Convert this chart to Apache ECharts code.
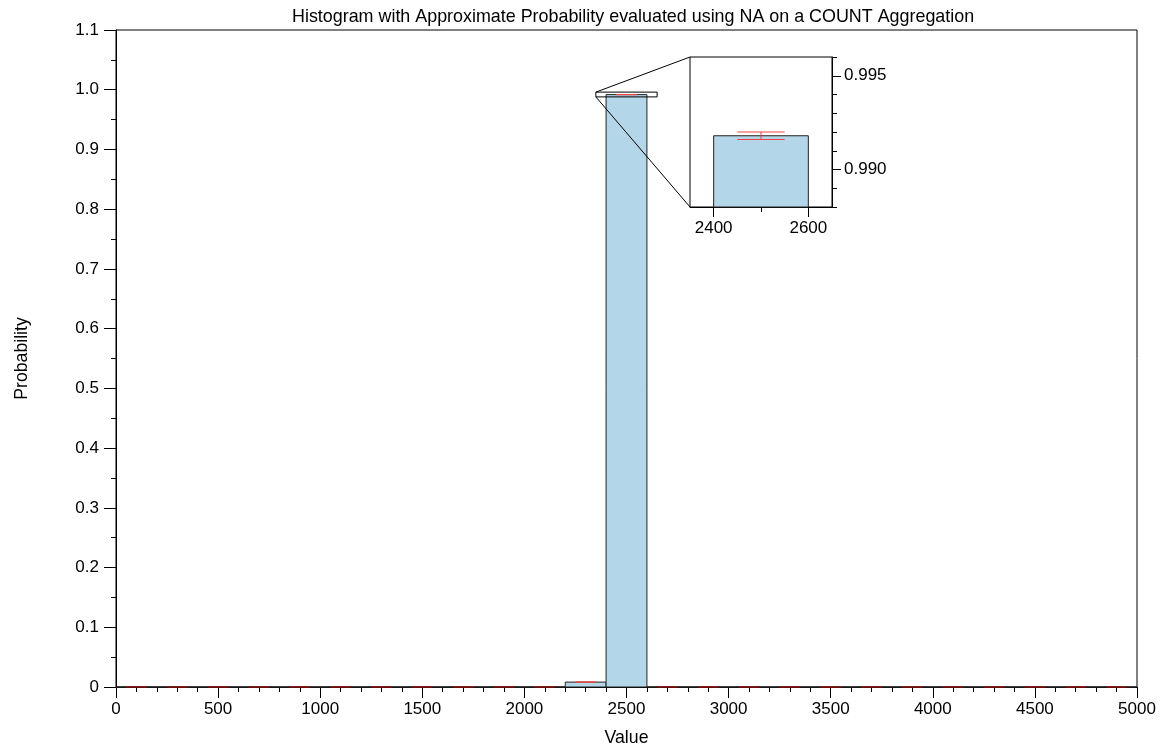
<!DOCTYPE html>
<html><head><meta charset="utf-8">
<script src="https://cdn.jsdelivr.net/npm/echarts@6/dist/echarts.min.js"></script>
<style>html,body{margin:0;padding:0;background:#fff}#c{width:1169px;height:749px}</style>
</head><body><div id="c"></div>
<script>
// ---- data ----
const binStarts = [0,200,400,600,800,1000,1200,1400,1600,1800,2000,2200,2400,2600,2800,3000,3200,3400,3600,3800,4000,4200,4400,4600,4800];
const binWidth = 200;
const probs =     [0,0,0,0,0,0,0,0,0,0,0,0.0082,0.9918,0,0,0,0,0,0,0,0,0,0,0,0];
const errors =    [0,0,0,0,0,0,0,0,0,0,0,0.0002,0.0002,0,0,0,0,0,0,0,0,0,0,0,0];
const zoomX = [2350, 2650];
const zoomY = [0.988, 0.996];
const insetXLabels = [2400, 2600];
const insetXMinor = [2500];
const insetYLabels = [0.990, 0.995];

const barData = binStarts.map((s,i)=>[s, s+binWidth, probs[i]]);
const errData = binStarts.map((s,i)=>[s+binWidth/2, probs[i], errors[i], binWidth/4]);

const FONT = '"Liberation Sans", Arial, Helvetica, sans-serif';
const chart = echarts.init(document.getElementById('c'), null, {renderer:'canvas'});

function renderBar(params, api){
  const x0 = api.value(0), x1 = api.value(1), y = api.value(2);
  const yb = params.seriesIndex === 0 ? 0 : zoomY[0] - 1;
  const p0 = api.coord([x0, y]);
  const p1 = api.coord([x1, yb]);
  const shape = echarts.graphic.clipRectByRect({
    x: p0[0], y: p0[1], width: p1[0]-p0[0], height: p1[1]-p0[1]
  }, {x: params.coordSys.x, y: params.coordSys.y, width: params.coordSys.width, height: params.coordSys.height});
  if (!shape) return null;
  return {type:'rect', shape: shape, style:{fill:'#b3d6e8', stroke:'#222', lineWidth:1}};
}
function renderErr(params, api){
  const cx = api.value(0), v = api.value(1), e = api.value(2), hw = api.value(3);
  const cs = params.coordSys;
  const top = api.coord([cx, v+e]), bot = api.coord([cx, v-e]);
  const l = api.coord([cx-hw, v]), r = api.coord([cx+hw, v]);
  if (l[0] > cs.x + cs.width || r[0] < cs.x) return null;
  if (top[1] > cs.y + cs.height + 1 || bot[1] < cs.y - 1) return null;
  const col = v === 0 ? 'rgba(200,0,0,0.55)' : '#ee4444';
  const st = {stroke: col, lineWidth: 1};
  return {type:'group', children:[
    {type:'line', shape:{x1:l[0], y1:top[1], x2:r[0], y2:top[1]}, style:st},
    {type:'line', shape:{x1:l[0], y1:bot[1], x2:r[0], y2:bot[1]}, style:st},
    {type:'line', shape:{x1:top[0], y1:top[1], x2:bot[0], y2:bot[1]}, style:st}
  ]};
}

const lbl = {color:'#000', fontSize:17, fontFamily: FONT};
const nm = {color:'#000', fontSize:17.7, fontFamily: FONT};
const option = {
  animation:false,
  backgroundColor:'#fff',
  title:{text:'Histogram with Approximate Probability evaluated using NA on a COUNT Aggregation',
    left:287, top:3, textStyle:{fontSize:17.9, fontWeight:'normal', color:'#000', fontFamily:FONT}},
  grid:[
    {left:116, right:32, top:30, bottom:62, show:true, borderColor:'#000', borderWidth:1, backgroundColor:'transparent', containLabel:false, outerBoundsMode:'none'},
    {left:690, right:337, top:57, bottom:542, show:true, borderColor:'#000', borderWidth:1, backgroundColor:'#fff', containLabel:false, outerBoundsMode:'none', z:5}
  ],
  xAxis:[
    {type:'value', gridIndex:0, min:0, max:5000, interval:500, position:'bottom',
     name:'Value', nameLocation:'middle', nameGap:42, nameTextStyle:nm,
     axisLine:{show:true, onZero:false, lineStyle:{color:'#000'}},
     axisTick:{show:true, length:11, lineStyle:{color:'#000'}},
     minorTick:{show:true, splitNumber:5, length:5, lineStyle:{color:'#000'}},
     splitLine:{show:false}, axisLabel:Object.assign({margin:14, formatter: v => String(v)}, lbl)},
    {type:'value', gridIndex:1, min:zoomX[0], max:zoomX[1], position:'bottom', z:6,
     axisLine:{show:true, onZero:false, lineStyle:{color:'#000'}},
     axisTick:{show:true, length:10, customValues:insetXLabels, lineStyle:{color:'#000'}},
     splitLine:{show:false}, axisLabel:Object.assign({margin:13, customValues:insetXLabels, formatter: v => String(v)}, lbl)},
    {type:'value', gridIndex:1, min:zoomX[0], max:zoomX[1], interval:50, position:'bottom', z:6,
     axisLine:{show:false, onZero:false},
     axisTick:{show:true, length:5, customValues:insetXMinor, lineStyle:{color:'#000'}},
     splitLine:{show:false}, axisLabel:{show:false}}
  ],
  yAxis:[
    {type:'value', gridIndex:0, min:0, max:1.1, interval:0.1,
     name:'Probability', nameLocation:'middle', nameGap:85, nameTextStyle:nm,
     axisLine:{show:true, onZero:false, lineStyle:{color:'#000'}},
     axisTick:{show:true, length:12, lineStyle:{color:'#000'}},
     minorTick:{show:true, splitNumber:2, length:5, lineStyle:{color:'#000'}},
     splitLine:{show:false},
     axisLabel:Object.assign({margin:17, formatter: v => v === 0 ? '0' : v.toFixed(1)}, lbl)},
    {type:'value', gridIndex:1, min:zoomY[0], max:zoomY[1], interval:0.001, position:'right', z:6,
     axisLine:{show:true, onZero:false, lineStyle:{color:'#000'}},
     axisTick:{show:true, length:5, lineStyle:{color:'#000'}},
     splitLine:{show:false},
     axisLabel:Object.assign({margin:12, customValues:insetYLabels, formatter: v => v.toFixed(3)}, lbl)},
    {type:'value', gridIndex:1, min:zoomY[0], max:zoomY[1], position:'right', z:6,
     axisLine:{show:false, onZero:false},
     axisTick:{show:true, length:9, customValues:insetYLabels, lineStyle:{color:'#000'}},
     splitLine:{show:false}, axisLabel:{show:false}}
  ],
  series:[
    {type:'custom', xAxisIndex:0, yAxisIndex:0, renderItem:renderBar, data:barData, z:2},
    {type:'custom', xAxisIndex:1, yAxisIndex:1, renderItem:renderBar, data:barData, z:7},
    {type:'custom', xAxisIndex:0, yAxisIndex:0, renderItem:renderErr, data:errData, z:3},
    {type:'custom', xAxisIndex:1, yAxisIndex:1, renderItem:renderErr, data:errData, z:8}
  ]
};
chart.setOption(option);

// zoom box and connector lines, positioned through the axes
const m = {xAxisIndex:0, yAxisIndex:0}, n = {xAxisIndex:1, yAxisIndex:1};
const bTL = chart.convertToPixel(m, [zoomX[0], zoomY[1]]);
const bBR = chart.convertToPixel(m, [zoomX[1], zoomY[0]]);
const iTL = chart.convertToPixel(n, [zoomX[0], zoomY[1]]);
const iBL = chart.convertToPixel(n, [zoomX[0], zoomY[0]]);
chart.setOption({graphic:[
  {type:'rect', shape:{x:bTL[0], y:bTL[1], width:bBR[0]-bTL[0], height:bBR[1]-bTL[1]}, style:{fill:'none', stroke:'#000', lineWidth:1}, z:10},
  {type:'line', shape:{x1:bTL[0], y1:bTL[1], x2:iTL[0], y2:iTL[1]}, style:{stroke:'#000', lineWidth:1}, z:10},
  {type:'line', shape:{x1:bTL[0], y1:bBR[1], x2:iBL[0], y2:iBL[1]}, style:{stroke:'#000', lineWidth:1}, z:10}
]});
</script></body></html>
